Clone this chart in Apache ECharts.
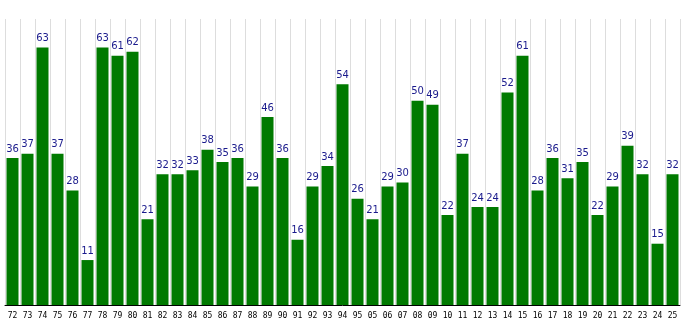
<!DOCTYPE html>
<html><head><meta charset="utf-8">
<script src="https://cdn.jsdelivr.net/npm/echarts@6/dist/echarts.min.js"></script>
<style>html,body{margin:0;padding:0;background:#fff}#c{width:685px;height:330px}</style>
</head><body><div id="c"></div>
<script>
const categories = ["72","73","74","75","76","77","78","79","80","81","82","83","84","85","86","87","88","89","90","91","92","93","94","95","05","06","07","08","09","10","11","12","13","14","15","16","17","18","19","20","21","22","23","24","25"];
const values = [36,37,63,37,28,11,63,61,62,21,32,32,33,38,35,36,29,46,36,16,29,34,54,26,21,29,30,50,49,22,37,24,24,52,61,28,36,31,35,22,29,39,32,15,32];

const chart = echarts.init(document.getElementById('c'), null, {renderer:'canvas'});
chart.setOption({
  animation:false,
  grid:{left:5,right:5,top:19,bottom:25,containLabel:false},
  xAxis:{
    type:'category', data:categories, boundaryGap:true,
    axisLine:{lineStyle:{color:'#000',width:1}},
    axisTick:{inside:true,length:4,lineStyle:{color:'#000'}},
    axisLabel:{color:'#000',fontFamily:'DejaVu Sans Mono',fontSize:8,margin:7},
    splitLine:{show:true,lineStyle:{color:'#dddddd',width:1}}
  },
  yAxis:{type:'value',min:0,max:70,show:false,splitLine:{show:false}},
  series:[{
    type:'bar', data:values, barCategoryGap:'20%',
    itemStyle:{color:'#007a00'},
    label:{show:true,position:'top',distance:4,color:'#1a1a8c',fontFamily:'DejaVu Sans',fontSize:10}
  }]
});
</script></body></html>
